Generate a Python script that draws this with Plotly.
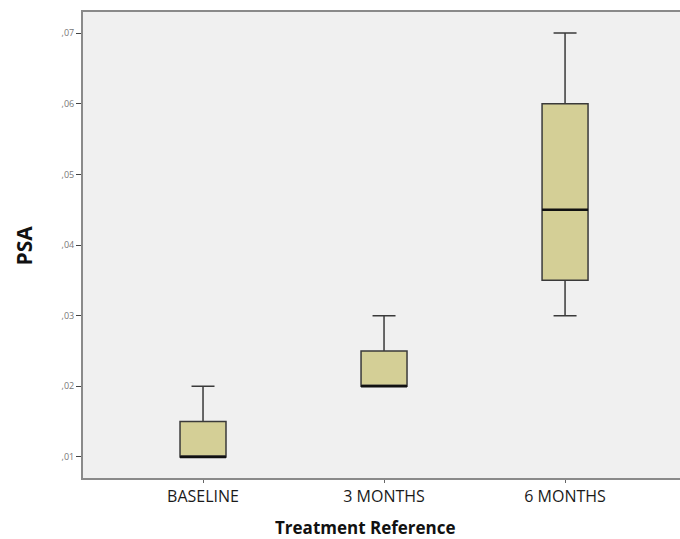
import plotly.graph_objects as go

categories = ["BASELINE", "3 MONTHS", "6 MONTHS"]
lower_whisker = [0.010, 0.020, 0.030]
q1_values = [0.010, 0.020, 0.035]
median_values = [0.010, 0.020, 0.045]
q3_values = [0.015, 0.025, 0.060]
upper_whisker = [0.020, 0.030, 0.070]
y_tick_values = [0.01, 0.02, 0.03, 0.04, 0.05, 0.06, 0.07]
y_tick_labels = [",01", ",02", ",03", ",04", ",05", ",06", ",07"]

positions = list(range(len(categories)))
box_width = 0.254

fig = go.Figure()
fig.add_trace(go.Box(
    x=positions,
    lowerfence=lower_whisker,
    q1=q1_values,
    median=median_values,
    q3=q3_values,
    upperfence=upper_whisker,
    width=box_width,
    whiskerwidth=0.5,
    fillcolor="#D4CF96",
    line=dict(color="#3a3a3a", width=1.5),
    boxpoints=False,
    hoverinfo="skip",
    showlegend=False,
))

shapes = []
for p, m in zip(positions, median_values):
    shapes.append(dict(type="line", xref="x", yref="y",
                       x0=p - box_width / 2, x1=p + box_width / 2, y0=m, y1=m,
                       line=dict(color="#111111", width=2.5)))

fig.update_layout(
    width=680, height=539,
    margin=dict(l=83, r=0, t=12, b=61),
    paper_bgcolor="white",
    plot_bgcolor="#F0F0F0",
    shapes=shapes,
    font=dict(family="Open Sans, Noto Sans, sans-serif"),
    xaxis=dict(
        range=[-0.663, 2.635],
        tickvals=positions,
        ticktext=categories,
        showgrid=False, zeroline=False,
        showline=True, mirror=True, linecolor="#8a8a8a", linewidth=2,
        ticks="outside", ticklen=3, tickcolor="#666666",
        tickfont=dict(size=16, color="#1a1a1a"),
    ),
    yaxis=dict(
        range=[0.00702, 0.07298],
        tickvals=y_tick_values,
        ticktext=y_tick_labels,
        showgrid=False, zeroline=False,
        showline=True, mirror=False, linecolor="#8a8a8a", linewidth=2,
        ticks="outside", ticklen=5, tickcolor="#444444",
        tickfont=dict(size=9, color="#777777"),
    ),
    annotations=[
        dict(text="<b>Treatment Reference</b>", xref="paper", yref="paper",
             x=(365 - 83) / (680 - 83), y=-0.106, xanchor="center", yanchor="middle",
             showarrow=False, font=dict(size=17, color="#111111")),
        dict(text="<b>PSA</b>", xref="paper", yref="paper",
             x=-0.098, y=0.5, xanchor="center", yanchor="middle", textangle=-90,
             showarrow=False, font=dict(size=21, color="#111111")),
    ],
)

fig.write_html(
    "out.html",
    config={"displayModeBar": False},
    post_script="document.body.style.margin='0';document.body.style.overflow='hidden';",
)
